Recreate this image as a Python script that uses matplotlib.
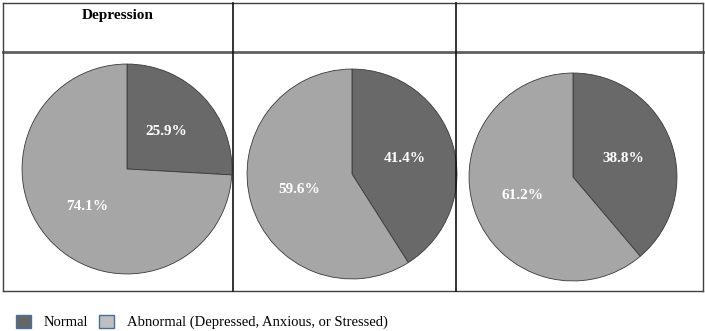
import matplotlib
matplotlib.use("Agg")
import matplotlib.pyplot as plt
from matplotlib.lines import Line2D
from matplotlib.patches import Patch

plt.rcParams['font.family'] = ['Liberation Serif', 'DejaVu Serif']

# data
labels = ["Normal", "Abnormal (Depressed, Anxious, or Stressed)"]
normal = [25.9, 41.4, 38.8]
abnormal = [74.1, 59.6, 61.2]
headers = ["Depression", "", ""]
colors = ["#696969", "#a6a6a6"]

W, H = 705, 331
fig = plt.figure(figsize=(W / 100, H / 100), dpi=100)

# pie placement in pixels: center x, center y (from top), radius
pies = [(127, 169, 106), (352, 174, 106), (573, 177, 105)]
for i, (cx, cy, r) in enumerate(pies):
    ax = fig.add_axes([(cx - r) / W, 1 - (cy + r) / H, 2 * r / W, 2 * r / H])
    vals = [normal[i], abnormal[i]]
    shown = iter(["%.1f%%" % v for v in vals])
    wedges, texts, autotexts = ax.pie(
        vals, colors=colors, startangle=90, counterclock=False,
        autopct=lambda p: next(shown), pctdistance=0.52,
        wedgeprops=dict(edgecolor="#3a3a3a", linewidth=0.6))
    for t in autotexts:
        t.set_color("white")
        t.set_fontweight("bold")
        t.set_fontsize(11)
    ax.set_xlim(-1.01, 1.01)
    ax.set_ylim(-1.01, 1.01)
    ax.set_aspect("auto")

# table grid
def hline(y, x0, x1, lw, c):
    fig.add_artist(Line2D([x0 / W, x1 / W], [1 - y / H, 1 - y / H], lw=lw, color=c))

def vline(x, y0, y1, lw, c):
    fig.add_artist(Line2D([x / W, x / W], [1 - y0 / H, 1 - y1 / H], lw=lw, color=c))

hline(2.5, 2.5, 703, 1.0, "#404040")
hline(51.5, 2.5, 703, 2.0, "#606060")
hline(290.5, 2.5, 703, 1.0, "#404040")
vline(2.5, 2.5, 290.5, 1.0, "#404040")
vline(703, 2.5, 290.5, 1.0, "#404040")
vline(233.5, 2.5, 290.5, 1.2, "#111111")
vline(456, 2.5, 290.5, 1.2, "#111111")

xcent = [118, 345, 580]
for x, h in zip(xcent, headers):
    fig.text(x / W, 1 - 16 / H, h, ha="center", va="center",
             fontsize=11, fontweight="bold")

handles = [Patch(facecolor="#666666", edgecolor="#41719c", linewidth=1.0),
           Patch(facecolor="#c0bfc0", edgecolor="#41719c", linewidth=1.0)]
fig.legend(handles, labels, loc="center left", bbox_to_anchor=(16 / W, 1 - 322 / H),
           ncol=2, frameon=False, fontsize=10.5, handlelength=1.0, handleheight=1.0,
           handletextpad=0.9, columnspacing=0.75, borderaxespad=0, borderpad=0)

fig.savefig("out.png", dpi=100)
